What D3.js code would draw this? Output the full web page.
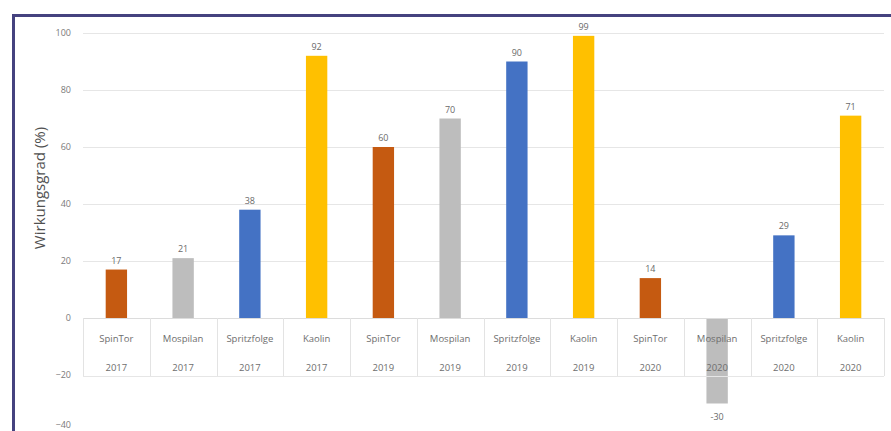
<!DOCTYPE html>
<html>
<head>
<meta charset="utf-8">
<script src="https://cdn.jsdelivr.net/npm/d3@7"></script>
<style>
  html, body { margin: 0; padding: 0; background: #fff; }
  svg { display: block; font-family: "Open Sans", "Liberation Sans", sans-serif; }
</style>
</head>
<body>
<svg id="chart" width="891" height="431"></svg>
<script>
const products = ["SpinTor", "Mospilan", "Spritzfolge", "Kaolin",
                  "SpinTor", "Mospilan", "Spritzfolge", "Kaolin",
                  "SpinTor", "Mospilan", "Spritzfolge", "Kaolin"];
const years = ["2017", "2017", "2017", "2017",
               "2019", "2019", "2019", "2019",
               "2020", "2020", "2020", "2020"];
const values = [17, 21, 38, 92, 60, 70, 90, 99, 14, -30, 29, 71];
const yTicks = [100, 80, 60, 40, 20, 0, -20, -40];
const productColors = {
  "SpinTor": "#C55A11",
  "Mospilan": "#BDBDBD",
  "Spritzfolge": "#4472C4",
  "Kaolin": "#FFC000"
};
const yTitle = "Wirkungsgrad (%)";

const svg = d3.select("#chart");
const idx = d3.range(values.length);

const x = d3.scaleBand().domain(idx).range([83, 884]).paddingInner(0.68).paddingOuter(0.34);
const y = d3.scaleLinear().domain([-40, 100]).range([432, 33]);

// frame
svg.append("path")
  .attr("d", "M13.5,431 L13.5,15.5 L891,15.5")
  .attr("fill", "none").attr("stroke", "#45427f").attr("stroke-width", 3);

// gridlines
svg.append("g").selectAll("line").data(yTicks.filter(t => t > 0)).join("line")
  .attr("x1", 83).attr("x2", 884)
  .attr("y1", d => Math.round(y(d)) + 0.5).attr("y2", d => Math.round(y(d)) + 0.5)
  .attr("stroke", "#e6e6e6").attr("stroke-width", 1);

// y axis tick labels
const yAxis = d3.axisLeft(y).tickValues(yTicks).tickSize(0).tickPadding(0);
const gy = svg.append("g").attr("transform", "translate(71,0)").call(yAxis);
gy.select(".domain").remove();
gy.selectAll("text").attr("fill", "#7a7a7a").attr("font-size", 9)
  .attr("font-family", "\"Open Sans\", \"Liberation Sans\", sans-serif");
gy.selectAll(".tick").filter(d => d === -40).select("text").attr("dy", "-0.5em");

// y title
svg.append("text")
  .attr("transform", "translate(45,188) rotate(-90)")
  .attr("text-anchor", "middle")
  .attr("font-size", 15).attr("fill", "#505050")
  .text(yTitle);

// bars
svg.append("g").selectAll("rect").data(idx).join("rect")
  .attr("x", i => x(i))
  .attr("width", x.bandwidth())
  .attr("y", i => y(Math.max(0, values[i])))
  .attr("height", i => Math.abs(y(values[i]) - y(0)))
  .attr("fill", i => productColors[products[i]]);

// value labels
svg.append("g").selectAll("text").data(idx).join("text")
  .attr("x", i => x(i) + x.bandwidth() / 2)
  .attr("y", i => values[i] >= 0 ? y(values[i]) - 6 : y(values[i]) + 16)
  .attr("text-anchor", "middle")
  .attr("font-size", 9).attr("fill", "#6a6a6a")
  .text(i => values[i]);

// category table (axis at 0)
const step = x.step();
const x0 = x.range()[0];
const tableTop = y(0), tableBottom = 376;
svg.append("line")
  .attr("x1", 83).attr("x2", 884).attr("y1", tableTop + 0.5).attr("y2", tableTop + 0.5)
  .attr("stroke", "#dcdcdc");
svg.append("g").selectAll("line").data(d3.range(values.length + 1)).join("line")
  .attr("x1", i => Math.round(x0 + i * step) + 0.5)
  .attr("x2", i => Math.round(x0 + i * step) + 0.5)
  .attr("y1", tableTop).attr("y2", tableBottom)
  .attr("stroke", "#e3e3e3");
svg.append("line")
  .attr("x1", 83).attr("x2", 884).attr("y1", tableBottom + 0.5).attr("y2", tableBottom + 0.5)
  .attr("stroke", "#e6e6e6");

const xAxis = svg.append("g");
xAxis.selectAll("text.prod").data(idx).join("text").attr("class", "prod")
  .attr("x", i => x(i) + x.bandwidth() / 2).attr("y", 342)
  .attr("text-anchor", "middle").attr("font-size", 9.5).attr("fill", "#6e6e6e")
  .text(i => products[i]);
xAxis.selectAll("text.year").data(idx).join("text").attr("class", "year")
  .attr("x", i => x(i) + x.bandwidth() / 2).attr("y", 371)
  .attr("text-anchor", "middle").attr("font-size", 9.5).attr("fill", "#6e6e6e")
  .text(i => years[i]);
</script>
</body>
</html>
